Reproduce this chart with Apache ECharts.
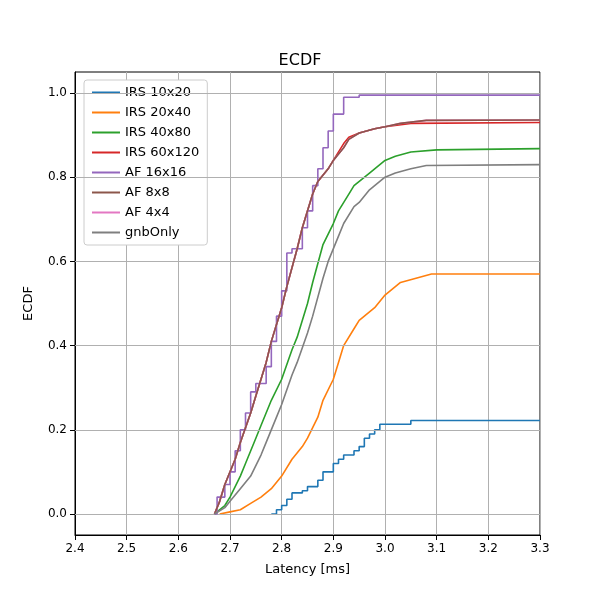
<!DOCTYPE html><html><head><meta charset="utf-8"><script src="https://cdn.jsdelivr.net/npm/echarts@6/dist/echarts.min.js"></script></head><body style="margin:0"><div id="c" style="width:600px;height:600px"></div><script>
const names=["IRS 10x20","IRS 20x40","IRS 40x80","IRS 60x120","AF 16x16","AF 8x8","AF 4x4","gnbOnly"];
const colors=["#1f77b4","#ff7f0e","#2ca02c","#d62728","#9467bd","#8c564b","#e377c2","#7f7f7f"];
const irs10=[[2.78,0],[2.79,0.01],[2.80,0.02],[2.81,0.035],[2.82,0.05],[2.84,0.055],[2.85,0.065],[2.87,0.08],[2.88,0.10],[2.90,0.12],[2.91,0.13],[2.92,0.14],[2.94,0.15],[2.95,0.16],[2.96,0.18],[2.97,0.19],[2.98,0.20],[2.99,0.213],[3.05,0.222],[3.3,0.222]];
const irs20=[[2.68,0],[2.70,0.005],[2.72,0.01],[2.74,0.025],[2.76,0.04],[2.78,0.06],[2.80,0.09],[2.82,0.13],[2.84,0.16],[2.85,0.18],[2.87,0.23],[2.88,0.27],[2.90,0.32],[2.91,0.36],[2.92,0.40],[2.94,0.44],[2.95,0.46],[2.98,0.49],[3.00,0.52],[3.02,0.54],[3.03,0.55],[3.06,0.56],[3.09,0.57],[3.3,0.57]];
const irs40=[[2.67,0],[2.69,0.02],[2.70,0.04],[2.72,0.09],[2.73,0.12],[2.75,0.18],[2.76,0.21],[2.78,0.27],[2.80,0.32],[2.82,0.39],[2.83,0.42],[2.85,0.50],[2.86,0.55],[2.88,0.64],[2.90,0.69],[2.91,0.72],[2.93,0.76],[2.94,0.78],[2.97,0.81],[3.00,0.84],[3.02,0.85],[3.05,0.86],[3.1,0.865],[3.3,0.868]];
const irs60=[[2.67,0],[2.68,0.03],[2.69,0.07],[2.71,0.13],[2.72,0.17],[2.74,0.24],[2.75,0.28],[2.77,0.36],[2.78,0.41],[2.80,0.49],[2.81,0.54],[2.83,0.63],[2.84,0.68],[2.86,0.76],[2.87,0.79],[2.89,0.82],[2.90,0.84],[2.92,0.88],[2.93,0.895],[2.95,0.905],[2.98,0.915],[3.00,0.92],[3.05,0.928],[3.3,0.93]];
const af16=[[2.67,0],[2.675,0.04],[2.69,0.07],[2.70,0.1],[2.71,0.15],[2.72,0.2],[2.73,0.24],[2.74,0.29],[2.75,0.31],[2.77,0.35],[2.78,0.41],[2.79,0.47],[2.80,0.53],[2.81,0.62],[2.82,0.63],[2.83,0.63],[2.84,0.68],[2.85,0.72],[2.86,0.78],[2.87,0.82],[2.88,0.87],[2.89,0.91],[2.90,0.95],[2.92,0.99],[2.95,0.995],[3.3,0.995]];
const af8=[[2.67,0],[2.68,0.03],[2.69,0.07],[2.71,0.13],[2.72,0.17],[2.74,0.24],[2.75,0.28],[2.77,0.36],[2.78,0.41],[2.80,0.49],[2.81,0.54],[2.83,0.63],[2.84,0.68],[2.86,0.76],[2.87,0.79],[2.89,0.82],[2.90,0.84],[2.92,0.87],[2.93,0.89],[2.95,0.905],[2.98,0.915],[3.00,0.92],[3.03,0.928],[3.08,0.935],[3.3,0.936]];
const af4=af8;
const gnb=[[2.67,0],[2.69,0.015],[2.70,0.03],[2.72,0.06],[2.74,0.09],[2.76,0.14],[2.77,0.17],[2.79,0.23],[2.80,0.26],[2.82,0.33],[2.83,0.36],[2.85,0.43],[2.86,0.47],[2.88,0.56],[2.89,0.60],[2.91,0.66],[2.92,0.69],[2.94,0.73],[2.95,0.74],[2.97,0.77],[2.98,0.78],[3.00,0.80],[3.02,0.81],[3.05,0.82],[3.08,0.828],[3.3,0.83]];
const data=[irs10,irs20,irs40,irs60,af16,af8,af4,gnb];
const stepped=[true,false,false,false,true,false,false,false];
const zs=[1,2,3,4,5,7,6,8];
const c=echarts.init(document.getElementById('c'));
c.setOption({
title:{text:'ECDF',left:'center',top:48,textStyle:{fontFamily:'DejaVu Sans',fontSize:16,fontWeight:'normal',color:'#000'}},
legend:{data:names,orient:'vertical',left:84,top:80,itemWidth:28,itemHeight:2,itemGap:7,borderColor:'#ccc',borderWidth:1,borderRadius:3,padding:[6,8],backgroundColor:'#fff',icon:'rect',textStyle:{fontFamily:'DejaVu Sans',fontSize:13,color:'#000'}},
grid:{left:75,right:60,top:72,bottom:65,show:true,borderColor:'#000',borderWidth:1,backgroundColor:'transparent'},
xAxis:{type:'value',min:2.4,max:3.3,interval:0.1,name:'Latency [ms]',nameLocation:'middle',nameGap:28,nameTextStyle:{fontFamily:'DejaVu Sans',fontSize:13,color:'#000'},axisLine:{onZero:false,lineStyle:{color:'#000'}},axisTick:{show:true,lineStyle:{color:'#000'}},axisLabel:{color:'#000',fontFamily:'DejaVu Sans',fontSize:12,formatter:v=>v.toFixed(1)},splitLine:{lineStyle:{color:'#b0b0b0'}}},
yAxis:{type:'value',min:-0.05,max:1.05,name:'ECDF',nameLocation:'middle',nameGap:40,nameTextStyle:{fontFamily:'DejaVu Sans',fontSize:13,color:'#000'},axisLine:{show:true,lineStyle:{color:'#000'}},axisTick:{show:true,lineStyle:{color:'#000'},customValues:[0,0.2,0.4,0.6,0.8,1.0]},axisLabel:{color:'#000',fontFamily:'DejaVu Sans',fontSize:12,formatter:v=>v.toFixed(1),customValues:[0,0.2,0.4,0.6,0.8,1.0]},splitLine:{show:false}},
series:names.map((n,i)=>({name:n,type:'line',step:stepped[i]?'end':false,data:data[i],showSymbol:false,symbol:'none',lineStyle:{width:1.6,color:colors[i]},itemStyle:{color:colors[i]},z:zs[i],
 markLine:i===0?{silent:true,symbol:'none',label:{show:false},lineStyle:{color:'#b0b0b0',type:'solid',width:1},data:[0,0.2,0.4,0.6,0.8,1.0].map(v=>({yAxis:v}))}:undefined}))
});
</script></body></html>
